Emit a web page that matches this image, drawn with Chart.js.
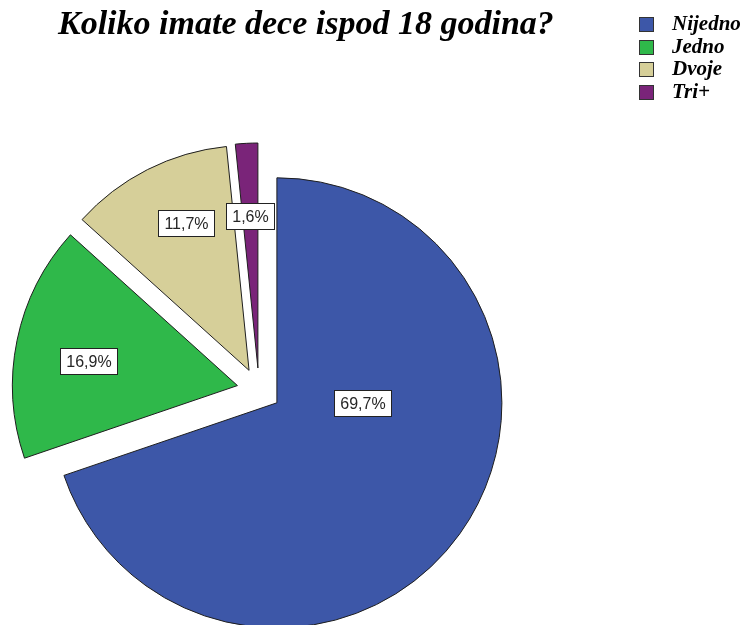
<!DOCTYPE html>
<html>
<head>
<meta charset="utf-8">
<script src="https://cdn.jsdelivr.net/npm/chart.js@4/dist/chart.umd.min.js"></script>
<style>
  html, body { margin: 0; padding: 0; background: #fff; }
  #wrap { position: relative; width: 743px; height: 625px; overflow: hidden; }
  #pie { position: absolute; left: 0; top: 0; }
  #title {
    position: absolute; left: 58px; top: 6px; white-space: nowrap;
    font: italic bold 34px/34px "Liberation Serif", "DejaVu Serif", serif; color: #000;
  }
  #legend { position: absolute; left: 639px; top: 12px; }
  .row { position: relative; height: 22.7px; white-space: nowrap;
    font: italic bold 21px/22.7px "Liberation Serif", "DejaVu Serif", serif; color: #000; }
  .sw { position: absolute; left: 0; top: 5px; width: 13px; height: 13px; border: 1px solid #333; }
  .row span.t { position: absolute; left: 33px; top: 0; }
</style>
</head>
<body>
<div id="wrap">
  <canvas id="pie" width="743" height="625"></canvas>
  <div id="title">Koliko imate dece ispod 18 godina?</div>
  <div id="legend"></div>
</div>
<script>
// Answer categories and their shares (percent)
const categories = ['Nijedno', 'Jedno', 'Dvoje', 'Tri+'];
const shares = [69.7, 16.9, 11.7, 1.6];
const colors = ['#3d57a8', '#2fb84a', '#d6cf99', '#7a2479'];

// Slice explosion distance and label placement (fraction of radius, angle shift in degrees)
const EXPLODE = 22;
const labelPlacement = [[0.38, -35.5], [0.67, -2.4], [0.71, 3.7], [0.675, 0]];

const fmt = v => v.toFixed(1).replace('.', ',') + '%';

// Legend
const legend = document.getElementById('legend');
categories.forEach((c, i) => {
  const row = document.createElement('div');
  row.className = 'row';
  row.innerHTML = '<span class="sw" style="background:' + colors[i] + '"></span><span class="t"></span>';
  row.querySelector('.t').textContent = c;
  legend.appendChild(row);
});

// Draws every slice pushed out along its mid-angle, then the value boxes
const explodePlugin = {
  id: 'explode',
  beforeDatasetDraw(chart, args) {
    const ctx = chart.ctx;
    args.meta.data.forEach(arc => {
      const mid = (arc.startAngle + arc.endAngle) / 2;
      ctx.save();
      ctx.translate(Math.cos(mid) * EXPLODE, Math.sin(mid) * EXPLODE);
      arc.draw(ctx);
      ctx.restore();
    });
    return false;
  },
  afterDatasetsDraw(chart) {
    const ctx = chart.ctx;
    const meta = chart.getDatasetMeta(0);
    ctx.save();
    ctx.font = '16px "Liberation Sans", Arial, sans-serif';
    ctx.textAlign = 'center';
    ctx.textBaseline = 'middle';
    meta.data.forEach((arc, i) => {
      const mid = (arc.startAngle + arc.endAngle) / 2;
      const cx = arc.x + Math.cos(mid) * EXPLODE;
      const cy = arc.y + Math.sin(mid) * EXPLODE;
      const [f, shift] = labelPlacement[i];
      const a = mid + shift * Math.PI / 180;
      const lx = cx + Math.cos(a) * arc.outerRadius * f;
      const ly = cy + Math.sin(a) * arc.outerRadius * f;
      const txt = fmt(shares[i]);
      const w = Math.round(ctx.measureText(txt).width + 12);
      const h = 26;
      const bx = Math.round(lx - w / 2) + 0.5, by = Math.round(ly - h / 2) + 0.5;
      ctx.fillStyle = '#fff';
      ctx.fillRect(bx, by, w, h);
      ctx.strokeStyle = '#222';
      ctx.lineWidth = 1;
      ctx.strokeRect(bx, by, w, h);
      ctx.fillStyle = '#262626';
      ctx.fillText(txt, bx + w / 2, by + h / 2 + 1);
    });
    ctx.restore();
  }
};

new Chart(document.getElementById('pie'), {
  type: 'pie',
  data: {
    labels: categories,
    datasets: [{
      data: shares,
      backgroundColor: colors,
      borderColor: '#1e1e1e',
      borderWidth: 1
    }]
  },
  options: {
    responsive: false,
    animation: false,
    radius: 225,
    layout: { padding: { left: 0, right: 225, top: 155, bottom: 0 } },
    plugins: { legend: { display: false }, title: { display: false }, tooltip: { enabled: false } },
    events: []
  },
  plugins: [explodePlugin]
});
</script>
</body>
</html>
